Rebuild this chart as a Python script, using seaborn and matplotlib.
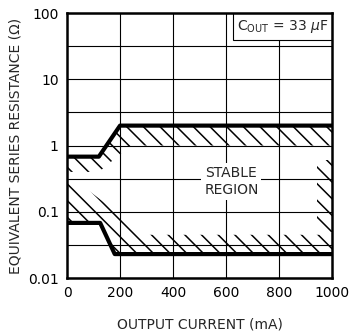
import numpy as np
import pandas as pd
import matplotlib
matplotlib.use("Agg")
import matplotlib.pyplot as plt
import seaborn as sns
from matplotlib.patches import Rectangle
from matplotlib.ticker import FixedLocator, FixedFormatter

# limit curves of the stable ESR region
upper_x = [0, 120, 200, 1000]
upper_y = [0.68, 0.68, 2.0, 2.0]
lower_x = [0, 125, 180, 1000]
lower_y = [0.068, 0.068, 0.023, 0.023]

# hatched bands just inside the limits
band_top_x = [0, 120, 240, 1000]
band_top_lo = [0.4, 0.4, 1.0, 1.0]
band_bot_x = [0, 30, 300, 1000]
band_bot_hi = [0.3, 0.3, 0.045, 0.045]
band_right_x = [945, 1000]
band_right_lo = [0.05, 0.05]
band_right_hi = [0.6, 0.6]

xticks = [0, 200, 400, 600, 800, 1000]
yticks = [0.01, 0.1, 1, 10, 100]
ytick_labels = ["0.01", "0.1", "1", "10", "100"]

sns.set_theme(style="white")
plt.rcParams['font.family'] = ['DejaVu Sans']
plt.rcParams['hatch.linewidth'] = 1.1
plt.rcParams['hatch.color'] = 'black'

fig = plt.figure(figsize=(3.51, 3.35), dpi=100)
ax = fig.add_axes([0.191, 0.170, 0.755, 0.791])
ax.set_yscale("log")
ax.set_xlim(0, 1000)
ax.set_ylim(0.01, 100)

# grid: half-decade horizontals, 200 mA verticals
for k in range(-4, 5):
    ax.axhline(10 ** (k / 2), color="black", lw=0.8, zorder=1)
for xv in xticks[1:-1]:
    ax.axvline(xv, color="black", lw=0.8, zorder=1)


def log_interp(xs, px, py):
    return 10 ** np.interp(xs, px, np.log10(py))


grid_x = np.linspace(0, 1000, 401)
hatch_kw = dict(facecolor="none", edgecolor="black", hatch="\\\\", lw=0, zorder=2)
ax.fill_between(grid_x, log_interp(grid_x, band_top_x, band_top_lo),
                log_interp(grid_x, upper_x, upper_y), **hatch_kw)
ax.fill_between(grid_x, log_interp(grid_x, lower_x, lower_y),
                log_interp(grid_x, band_bot_x, band_bot_hi), **hatch_kw)
ax.fill_between(band_right_x, band_right_lo, band_right_hi, **hatch_kw)

df_up = pd.DataFrame({"x": upper_x, "y": upper_y})
df_lo = pd.DataFrame({"x": lower_x, "y": lower_y})
sns.lineplot(data=df_up, x="x", y="y", color="black", lw=3, ax=ax, sort=False, zorder=4)
sns.lineplot(data=df_lo, x="x", y="y", color="black", lw=3, ax=ax, sort=False, zorder=4)

ax.text(620, 0.29, "STABLE\nREGION", ha="center", va="center", fontsize=10,
        linespacing=1.3, zorder=5,
        bbox=dict(facecolor="white", edgecolor="none", pad=2))

# C_OUT note in a white box tucked into the top-right corner
ax.add_patch(Rectangle((0.626, 0.898), 0.374, 0.102, transform=ax.transAxes,
                       facecolor="white", edgecolor="black", lw=0.8, zorder=5))
ax.text(0.813, 0.949, r"C$_{\mathregular{OUT}}$ = 33 $\mu$F", transform=ax.transAxes,
        ha="center", va="center", fontsize=10, zorder=6)

ax.xaxis.set_major_locator(FixedLocator(xticks))
ax.yaxis.set_major_locator(FixedLocator(yticks))
ax.yaxis.set_major_formatter(FixedFormatter(ytick_labels))
ax.yaxis.set_minor_locator(FixedLocator([]))
ax.tick_params(axis="both", length=0, labelsize=10, colors="black", pad=6)

for s in ax.spines.values():
    s.set_color("black")
    s.set_linewidth(1.8)
    s.set_zorder(7)

ax.set_xlabel("OUTPUT CURRENT (mA)", fontsize=10, labelpad=12)
ax.set_ylabel("EQUIVALENT SERIES RESISTANCE (\u03a9)", fontsize=10, labelpad=4)

fig.savefig("out.png", dpi=100)
